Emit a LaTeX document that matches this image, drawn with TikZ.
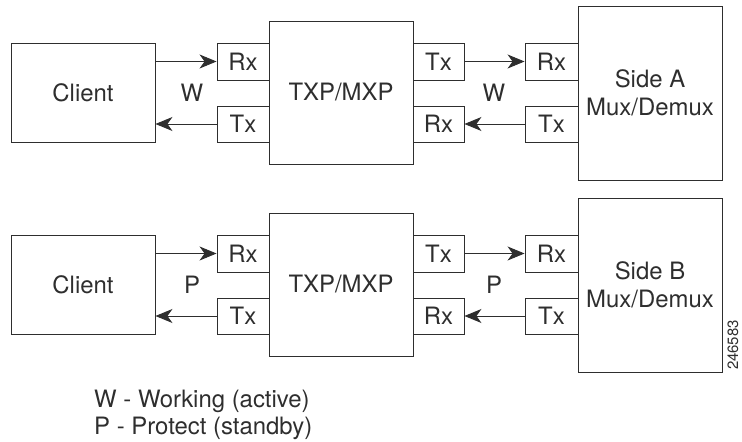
\documentclass[tikz,border=0pt]{standalone}
\usepackage{fontspec}
\setmainfont{TeX Gyre Heros}
\usetikzlibrary{arrows.meta}
\definecolor{ink}{gray}{0.18}
\tikzset{
  box/.style={draw=ink, line width=0.9bp, inner sep=0pt, text=ink,
    font=\fontsize{24}{28}\selectfont, align=center},
  conn/.style={draw=ink, line width=0.9bp,
    -{Stealth[length=17bp, width=14bp, inset=5bp]}},
  lbl/.style={text=ink, inner sep=0pt, font=\fontsize{24}{28}\selectfont},
}
\newcommand{\bx}[6]{%
  \node[box, minimum width={((#4)-(#2))*1bp}, minimum height={((#5)-(#3))*1bp}]
    (#1) at ({((#2)+(#4))/2},{((#3)+(#5))/2}) {#6};}
\begin{document}
\begin{tikzpicture}[x=1bp, y=-1bp]
\useasboundingbox (0,0) rectangle (742,442);
\foreach \row/\dy/\lab/\side in {1/0/W/A, 2/192/P/B}{
  \bx{client\row}{11}{43+\dy}{155}{142+\dy}{Client}
  \bx{txp\row}{269}{21+\dy}{413}{164+\dy}{TXP/MXP}
  \bx{rxa\row}{217}{43+\dy}{269}{80+\dy}{Rx}
  \bx{txa\row}{217}{106+\dy}{269}{142+\dy}{Tx}
  \bx{txb\row}{413}{43+\dy}{464}{80+\dy}{Tx}
  \bx{rxb\row}{413}{106+\dy}{464}{142+\dy}{Rx}
  \bx{rxc\row}{525}{43+\dy}{578}{80+\dy}{Rx}
  \bx{txc\row}{525}{106+\dy}{578}{142+\dy}{Tx}
  \bx{mux\row}{578}{6+\dy}{722}{180+\dy}{Side \side\\Mux/Demux}
  \draw[conn] (client\row.east |- rxa\row.west) -- (rxa\row.west);
  \draw[conn] (txa\row.west) -- (client\row.east |- txa\row.west);
  \draw[conn] (txb\row.east) -- (rxc\row.west);
  \draw[conn] (txc\row.west) -- (rxb\row.east);
  \node[lbl] (la\row) at (192,93+\dy) {\lab};
  \node[lbl] (lb\row) at (494,93+\dy) {\lab};
}
\node[lbl, anchor=base west] (leg1) at (94,407) {W - Working (active)};
\node[lbl, anchor=base west] (leg2) at (94,434) {P - Protect (standby)};
\node[lbl, rotate=90, font=\fontsize{15}{18}\selectfont] (fig) at (733,345) {246583};
\end{tikzpicture}
\end{document}
